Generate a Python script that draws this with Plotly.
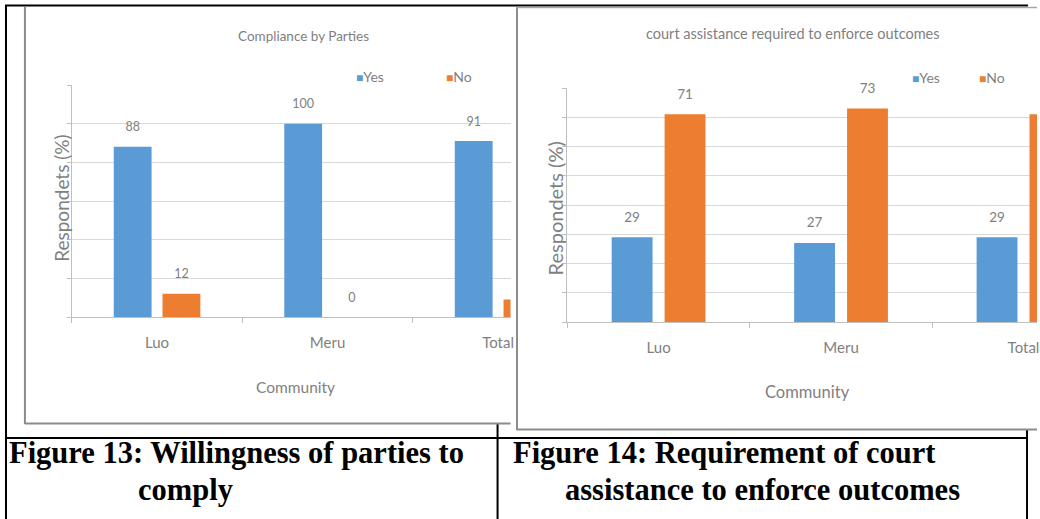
import plotly.graph_objects as go

# ---- data -------------------------------------------------------------
categories = ["Luo", "Meru", "Total"]

compliance_yes = [88, 100, 91]
compliance_no = [12, 0, 9]

court_yes = [29, 27, 29]
court_no = [71, 73, 71]

series_names = ["Yes", "No"]

# ---- page geometry helpers (pixel -> paper) ----------------------------
W, H = 1040, 519


def px(x):
    return x / W


def py(y):
    return 1 - y / H


BLUE = "#5B9BD5"
ORANGE = "#ED7D31"
TXT = "#7F7F7F"
GRID = "#D9D9D9"
AXIS = "#BFBFBF"
FONT = "Lato"

fig = go.Figure()

panels = [
    dict(xa="x", ya="y", yes=compliance_yes, no=compliance_no, width=0.222, offset=0.143,
         xmax=2.073, label_size=12.5),
    dict(xa="x2", ya="y2", yes=court_yes, no=court_no, width=0.224, offset=0.145,
         xmax=2.074, label_size=13.5),
]

for p in panels:
    for name, vals, sign, color in (
        (series_names[0], p["yes"], -1, BLUE),
        (series_names[1], p["no"], 1, ORANGE),
    ):
        xs = [i + sign * p["offset"] for i in range(len(categories))]
        fig.add_bar(
            x=xs, y=vals, width=p["width"], name=name,
            marker=dict(color=color, line=dict(width=0)),
            xaxis=p["xa"], yaxis=p["ya"], showlegend=False, hoverinfo="skip",
        )
        # value labels above each bar; labels of bars cropped off the panel are left out
        labels = [str(v) if x <= p["xmax"] else "" for x, v in zip(xs, vals)]
        fig.add_scatter(
            x=xs, y=vals, mode="markers+text",
            text=labels, textposition="top center",
            textfont=dict(family=FONT, size=p["label_size"], color=TXT),
            marker=dict(size=18, opacity=0),
            cliponaxis=False, xaxis=p["xa"], yaxis=p["ya"],
            showlegend=False, hoverinfo="skip",
        )


def xaxis_style(dom, rng):
    return dict(
        domain=dom, range=rng, tickmode="array", tickvals=list(range(len(categories))),
        ticktext=categories, ticks="", showgrid=False, zeroline=False,
        showline=True, linecolor=AXIS, linewidth=1,
        tickfont=dict(family=FONT, size=15, color=TXT), ticklabelstandoff=12,
        ticklabeloverflow="allow",
        minor=dict(tickmode="array", tickvals=[-0.5, 0.5, 1.5, 2.5], ticks="outside",
                   ticklen=5, tickcolor=AXIS, showgrid=False),
        fixedrange=True,
    )


def yaxis_style(dom, top, step):
    return dict(
        domain=dom, range=[0, top], dtick=step, tick0=0, showgrid=True, gridcolor=GRID,
        gridwidth=1, zeroline=False, showline=True, linecolor=AXIS, linewidth=1,
        ticks="outside", ticklen=4, tickcolor=AXIS, showticklabels=False, fixedrange=True,
    )


fig.update_layout(
    width=W, height=H, margin=dict(l=0, r=0, t=0, b=0),
    paper_bgcolor="white", plot_bgcolor="rgba(0,0,0,0)",
    barmode="overlay", showlegend=False,
    xaxis=dict(anchor="y", **xaxis_style([px(72), px(512)], [-0.5, 2.073])),
    yaxis=dict(anchor="x", **yaxis_style([py(317), py(85)], 120, 20)),
    xaxis2=dict(anchor="y2", **xaxis_style([px(569), 1.0], [-0.5, 2.074])),
    yaxis2=dict(anchor="x2", **yaxis_style([py(322), py(88)], 80, 10)),
)

# ---- table frame and pasted chart panels ------------------------------
shapes = []


def line(x0, y0, x1, y1, color="black", width=2):
    shapes.append(dict(type="line", xref="paper", yref="paper",
                       x0=px(x0), y0=py(y0), x1=px(x1), y1=py(y1),
                       line=dict(color=color, width=width), layer="below"))


def rect(x0, y0, x1, y1, fill="white"):
    shapes.append(dict(type="rect", xref="paper", yref="paper",
                       x0=px(x0), y0=py(y0), x1=px(x1), y1=py(y1),
                       fillcolor=fill, line=dict(width=0), layer="below"))


# table grid
line(5, 5.5, 1031, 5.5)
line(6, 5, 6, 519)
line(5, 438, 1031, 438)
line(499, 424, 499, 519)
line(1030, 430, 1030, 519)

# left chart panel
rect(25, 7, 512, 424)
line(25, 7, 25, 424, "#8C8C8C", 2)
line(25, 423.5, 512, 423.5, "#8C8C8C", 2)

# right chart panel
rect(518, 7, 1040, 430)
line(518.5, 7, 518.5, 430, "#8C8C8C", 2)
line(518, 7.5, 1040, 7.5, "#A6A6A6", 1.5)
line(518, 429.5, 1040, 429.5, "#8C8C8C", 2)

fig.update_layout(shapes=shapes)

# ---- text -------------------------------------------------------------
ann = []


def text(x, y, s, size, color=TXT, family=FONT, xanchor="center", angle=0, bold=False):
    if bold:
        s = "<b>" + s + "</b>"
    ann.append(dict(xref="paper", yref="paper", x=px(x), y=py(y), text=s,
                    showarrow=False, xanchor=xanchor, yanchor="middle",
                    textangle=angle, font=dict(family=family, size=size, color=color)))


# chart titles
text(304, 36, "Compliance by Parties", 13.5)
text(795, 33, "court assistance required to enforce outcomes", 14.5)

# axis titles
text(62, 198, "Respondets (%)", 19, angle=-90)
text(557, 208, "Respondets (%)", 20, angle=-90)
text(296, 387, "Community", 15.5)
text(810, 392, "Community", 16.5)

# legends
for (yx, nx, ly) in ((355, 445, 76), (913, 980, 77)):
    text(yx, ly, '<span style="color:%s;font-size:12px">■</span>%s' % (BLUE, series_names[0]),
         14, xanchor="left")
    text(nx, ly, '<span style="color:%s;font-size:12px">■</span>%s' % (ORANGE, series_names[1]),
         14, xanchor="left")

# captions
CAP = "Liberation Serif"
text(7, 453, "Figure 13: Willingness of parties to", 30.5, "black", CAP, "left", bold=True)
text(186, 490, "comply", 30.5, "black", CAP, "center", bold=True)
text(512, 453, "Figure 14: Requirement of court", 30.5, "black", CAP, "left", bold=True)
text(565, 490, "assistance to enforce outcomes", 30.5, "black", CAP, "left", bold=True)

fig.update_layout(annotations=ann)

fig.write_html("out.html")
